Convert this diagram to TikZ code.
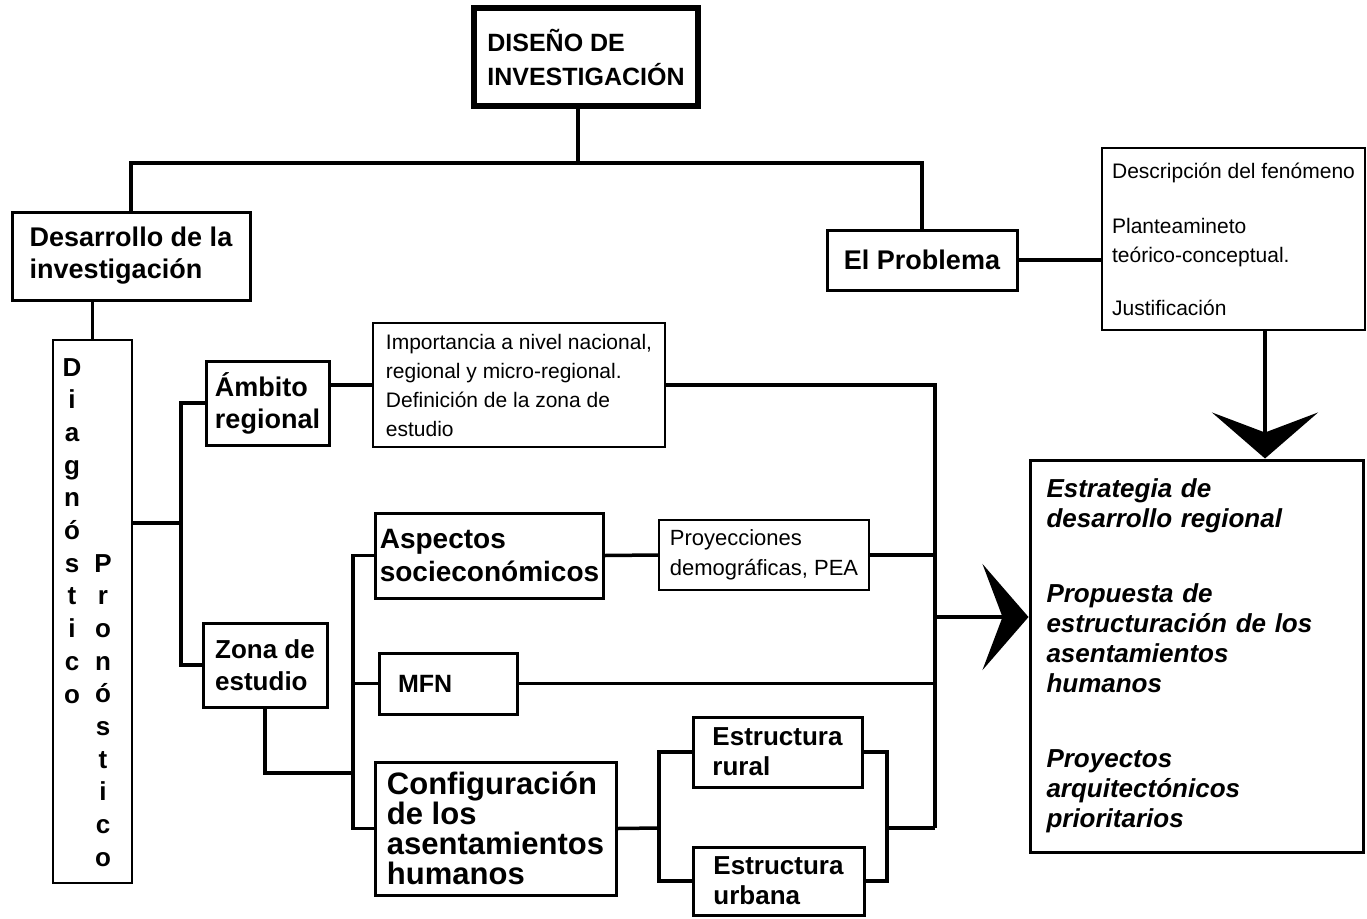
\documentclass[tikz,border=0pt]{standalone}
\usepackage{fontspec}
\setmainfont{Liberation Sans}
\usetikzlibrary{arrows.meta}

\tikzstyle{caja}=[draw=black, line width=3pt, inner sep=4pt, align=left]
\tikzstyle{fina}=[line width=2.2pt]
\tikzstyle{negra}=[font=\fontsize{27}{32}\selectfont\bfseries]
\tikzstyle{chica}=[font=\fontsize{21}{29}\selectfont]
\tikzstyle{letra}=[font=\fontsize{26}{26}\selectfont\bfseries, inner sep=0pt, anchor=base]
\tikzstyle{linea}=[line width=3.5pt]
\tikzstyle{flechaGrande}=[line width=3.5pt, -{Stealth[length=46pt, width=106pt, inset=20pt]}]
\tikzset{tam/.style 2 args={minimum width=#1pt, minimum height=#2pt}}

\begin{document}
\begin{tikzpicture}[x=1pt, y=-1pt]
	\useasboundingbox (0,0) rectangle (1367,918);

	% Parte superior
	\node(titulo) at (586,57) [caja, line width=6pt, tam={224}{98}, font=\fontsize{25}{34}\selectfont\bfseries] {DISEÑO DE\\INVESTIGACIÓN};
	\node(desarrollo) at (131,256) [caja, negra, tam={238}{88}] {Desarrollo de la\\investigación};
	\node(problema) at (922,260) [caja, negra, tam={190}{60}] {El Problema};
	\node(descripcion) at (1233.5,239) [caja, fina, chica, tam={263}{182}] {Descripción del fenómeno\\[26pt]Planteamineto\\teórico-conceptual.\\[24pt]Justificación};
	\node(resultado) at (1196.5,656) [caja, tam={333}{392}, text width=300pt, font=\fontsize{26}{30}\selectfont\bfseries\itshape] {Estrategia de\\desarrollo regional\\[45pt]Propuesta de\\estructuración de los\\asentamientos\\humanos\\[45pt]Proyectos\\arquitectónicos\\prioritarios};

	\coordinate(cruce) at (578,163);
	\draw[linea] (titulo.south -| cruce) -- (cruce);
	\draw[linea] (desarrollo.north) |- (cruce) -| (problema.north);
	\draw[linea] (problema.east) -- (problema.east -| descripcion.west);

	% Diagnostico / pronostico
	\node(diag) at (92.5,611.5) [caja, fina, tam={79}{543}] {};
	\foreach \letra [count=\i from 0] in {D,i,a,g,n,ó,s,t,i,c,o}
		\node(d\i) at (72,376+32.7*\i) [letra] {\letra};
	\foreach \letra [count=\i from 0] in {P,r,o,n,ó,s,t,i,c,o}
		\node(p\i) at (103,572+32.7*\i) [letra] {\letra};
	\draw[linea] (desarrollo.south -| diag.north) -- (diag.north);

	\node(ambito) at (267.5,403) [caja, negra, tam={123}{84}] {Ámbito\\regional};
	\node(importancia) at (519,385) [caja, fina, chica, tam={292}{124}] {Importancia a nivel nacional,\\regional y micro-regional.\\Definición de la zona de\\estudio};
	\node(zona) at (265,665) [caja, tam={124}{84}, font=\fontsize{26}{32}\selectfont\bfseries] {Zona de\\estudio};

	\coordinate(rama1) at (181,523);
	\draw[linea] (diag.east |- rama1) -- (rama1);
	\draw[linea] (ambito.west) -| (rama1) |- (zona.west);
	\draw[linea] (ambito.east |- importancia.west) -- (importancia.west);

	% Zona de estudio
	\node(aspectos) at (489.5,555.5) [caja, tam={227}{85}, font=\fontsize{28}{33}\selectfont\bfseries] {Aspectos\\socieconómicos};
	\node(proyecciones) at (764,555) [caja, fina, tam={210}{70}, font=\fontsize{22}{30}\selectfont] {Proyecciones\\demográficas, PEA};
	\node(mfn) at (448,683.5) [caja, negra, tam={138}{61}, text width=100pt, font=\fontsize{25}{30}\selectfont\bfseries] {MFN};
	\node(config) at (495.5,828.5) [caja, tam={241}{133}, font=\fontsize{31}{30}\selectfont\bfseries] {Configuración\\de los\\asentamientos\\humanos};
	\node(rural) at (777.5,752) [caja, tam={169}{70}, font=\fontsize{26}{30}\selectfont\bfseries] {Estructura\\rural};
	\node(urbana) at (778.5,881) [caja, tam={171}{68}, font=\fontsize{26}{30}\selectfont\bfseries] {Estructura\\urbana};

	\coordinate(rama2) at (353,773);
	\draw[linea] (zona.south) |- (rama2);
	\draw[linea] (aspectos.west) -| (rama2) |- (config.west);
	\draw[linea] (mfn.west) -- (mfn.west -| rama2);
	\draw[linea] (aspectos.east) -- (proyecciones.west);

	\coordinate(brIzq) at (659,828);
	\coordinate(brDer) at (887,828);
	\draw[linea] (config.east) -- (brIzq);
	\draw[linea] (rural.west) -| (brIzq) |- (urbana.west);
	\draw[linea] (rural.east) -| (brDer) |- (urbana.east);

	% Colector y flechas
	\coordinate(colInf) at (935,828);
	\draw[linea] (importancia.east) -| (colInf);
	\draw[linea] (proyecciones.east) -- (proyecciones.east -| colInf);
	\draw[linea] (mfn.east) -- (mfn.east -| colInf);
	\draw[linea] (brDer) -- (colInf);

	\coordinate(salida) at (935,617);
	\coordinate(bajada) at (1265,0);
	\draw[flechaGrande] (salida) -- (salida -| resultado.west);
	\draw[flechaGrande] (descripcion.south -| bajada) -- (resultado.north -| bajada);

\end{tikzpicture}
\end{document}
